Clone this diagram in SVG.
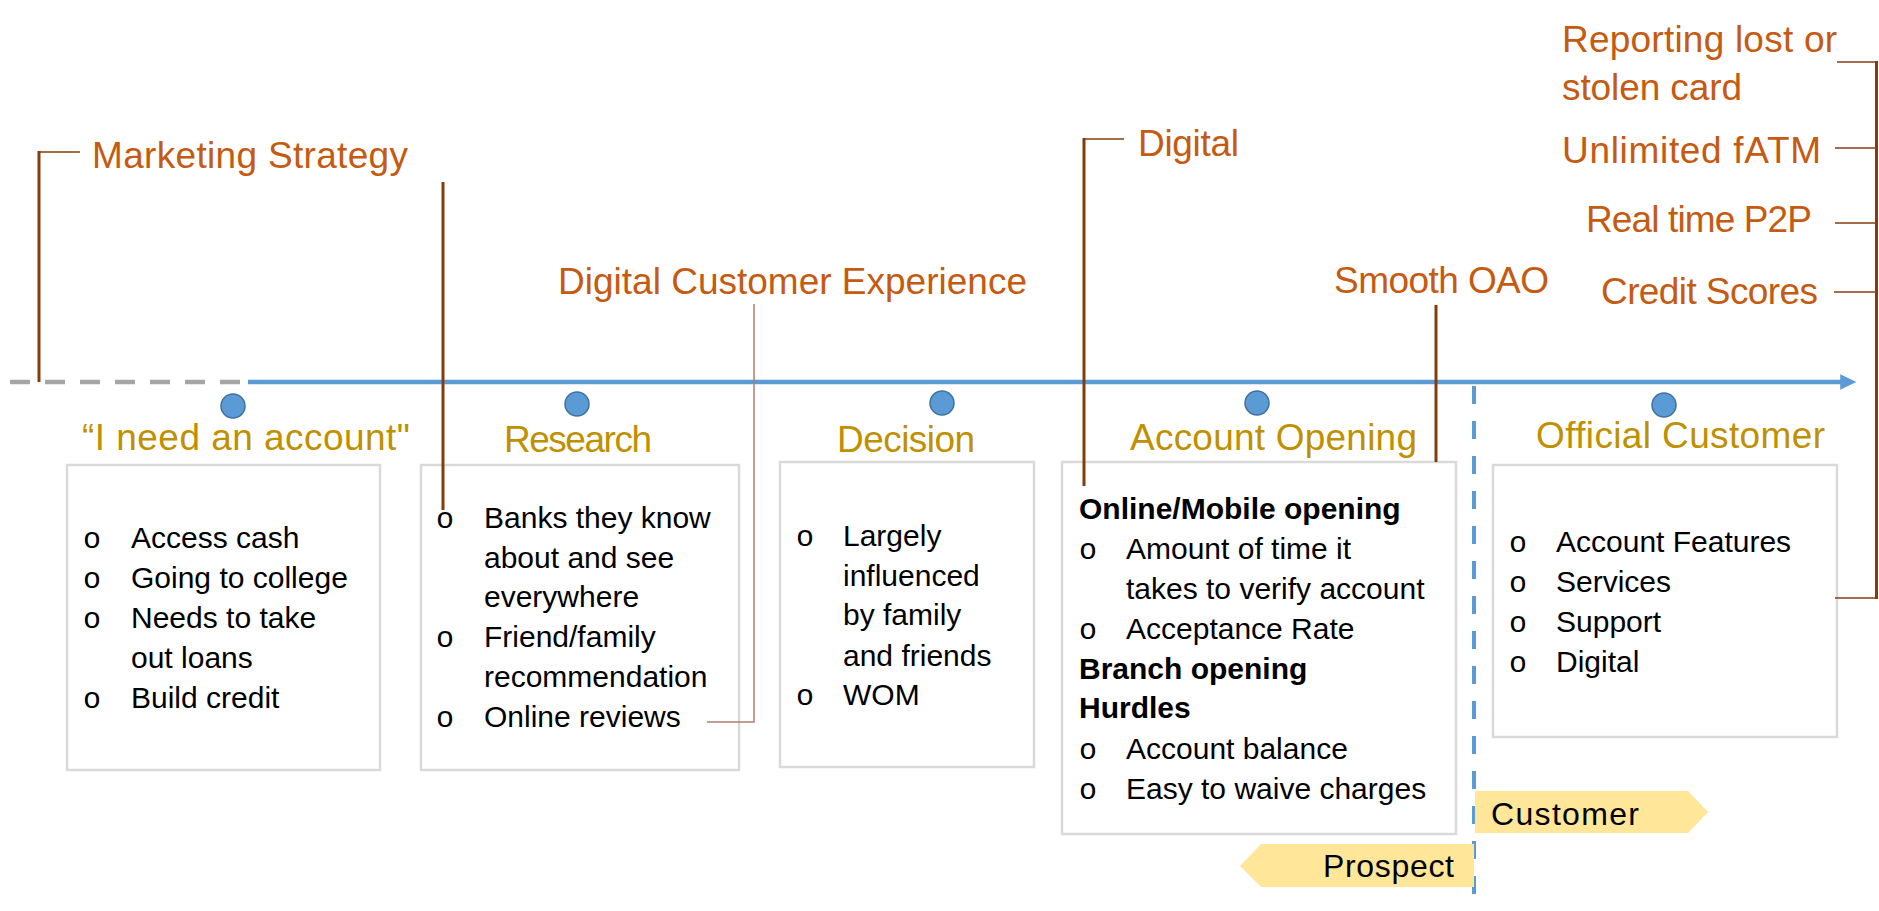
<svg xmlns="http://www.w3.org/2000/svg" width="1879" height="911" viewBox="0 0 1879 911">
  <style>
    .title { font-family: "Liberation Sans", Arial, sans-serif; font-size: 37px; fill: #BF9000; }
    .note { font-family: "Liberation Sans", Arial, sans-serif; font-size: 37px; fill: #C55A11; }
    .body { font-family: "Liberation Sans", Arial, sans-serif; font-size: 30px; fill: #000000; }
    .bold { font-weight: bold; }
    .bullet { font-family: "Liberation Mono", "Courier New", monospace; font-size: 30px; fill: #000000; text-anchor: middle; }
    .box { fill: #FFFFFF; stroke: #D9D9D9; stroke-width: 2.5; }
    .dot { fill: #5B9BD5; stroke: #41719C; stroke-width: 1.5; }
    .lead { fill: none; stroke: #843C0C; stroke-width: 3; }
    .tick { fill: none; stroke: #843C0C; stroke-width: 1.5; }
    .soft { fill: none; stroke: #B08070; stroke-width: 1.5; }
    .tag { fill: #FFE699; }
    .tagtext { font-family: "Liberation Sans", Arial, sans-serif; font-size: 32px; fill: #000000; }
  </style>
  <defs>
    <marker id="arrowHead" markerWidth="4" markerHeight="4" refX="0.4" refY="2" orient="auto" markerUnits="strokeWidth">
      <path d="M0,0.3 L3.6,2 L0,3.7 Z" fill="#5B9BD5"/>
    </marker>
  </defs>

  <rect width="1879" height="911" fill="#FFFFFF"/>

  <!-- timeline -->
  <g id="timeline">
    <line x1="10" y1="382" x2="240" y2="382" stroke="#A5A5A5" stroke-width="4.5" stroke-dasharray="20 15"/>
    <line x1="248" y1="382" x2="1842" y2="382" stroke="#5B9BD5" stroke-width="4.5" marker-end="url(#arrowHead)"/>
    <line x1="1474" y1="386" x2="1474" y2="895" stroke="#5B9BD5" stroke-width="4" stroke-dasharray="18 17"/>
  </g>

  <!-- stage 1 -->
  <g id="stage-need">
    <circle class="dot" cx="233" cy="406" r="12"/>
    <text class="title" x="82" y="450" textLength="328">“I need an account"</text>
    <rect class="box" x="67" y="465" width="313" height="305"/>
    <text class="bullet" x="92" y="548">o</text><text class="body" x="131" y="548">Access cash</text>
    <text class="bullet" x="92" y="588">o</text><text class="body" x="131" y="588">Going to college</text>
    <text class="bullet" x="92" y="628">o</text><text class="body" x="131" y="628">Needs to take</text>
    <text class="body" x="131" y="668">out loans</text>
    <text class="bullet" x="92" y="708">o</text><text class="body" x="131" y="708">Build credit</text>
  </g>

  <!-- stage 2 -->
  <g id="stage-research">
    <circle class="dot" cx="577" cy="404" r="12"/>
    <text class="title" x="504" y="452" textLength="148">Research</text>
    <rect class="box" x="421" y="465" width="318" height="305"/>
    <text class="bullet" x="445" y="528">o</text><text class="body" x="484" y="528">Banks they know</text>
    <text class="body" x="484" y="568">about and see</text>
    <text class="body" x="484" y="607">everywhere</text>
    <text class="bullet" x="445" y="647">o</text><text class="body" x="484" y="647">Friend/family</text>
    <text class="body" x="484" y="687">recommendation</text>
    <text class="bullet" x="445" y="727">o</text><text class="body" x="484" y="727">Online reviews</text>
  </g>

  <!-- stage 3 -->
  <g id="stage-decision">
    <circle class="dot" cx="942" cy="403" r="12"/>
    <text class="title" x="837" y="452" textLength="138">Decision</text>
    <rect class="box" x="780" y="462" width="254" height="305"/>
    <text class="bullet" x="805" y="546">o</text><text class="body" x="843" y="546">Largely</text>
    <text class="body" x="843" y="586">influenced</text>
    <text class="body" x="843" y="625">by family</text>
    <text class="body" x="843" y="666">and friends</text>
    <text class="bullet" x="805" y="705">o</text><text class="body" x="843" y="705">WOM</text>
  </g>

  <!-- stage 4 -->
  <g id="stage-opening">
    <circle class="dot" cx="1257" cy="403" r="12"/>
    <text class="title" x="1130" y="450" textLength="287">Account Opening</text>
    <rect class="box" x="1062" y="462" width="394" height="372"/>
    <text class="body bold" x="1079" y="519">Online/Mobile opening</text>
    <text class="bullet" x="1088" y="559">o</text><text class="body" x="1126" y="559">Amount of time it</text>
    <text class="body" x="1126" y="599">takes to verify account</text>
    <text class="bullet" x="1088" y="639">o</text><text class="body" x="1126" y="639">Acceptance Rate</text>
    <text class="body bold" x="1079" y="679">Branch opening</text>
    <text class="body bold" x="1079" y="718">Hurdles</text>
    <text class="bullet" x="1088" y="759">o</text><text class="body" x="1126" y="759">Account balance</text>
    <text class="bullet" x="1088" y="799">o</text><text class="body" x="1126" y="799">Easy to waive charges</text>
  </g>

  <!-- stage 5 -->
  <g id="stage-customer">
    <circle class="dot" cx="1664" cy="405" r="12"/>
    <text class="title" x="1536" y="448" textLength="289">Official Customer</text>
    <rect class="box" x="1493" y="465" width="344" height="272"/>
    <text class="bullet" x="1518" y="552">o</text><text class="body" x="1556" y="552">Account Features</text>
    <text class="bullet" x="1518" y="592">o</text><text class="body" x="1556" y="592">Services</text>
    <text class="bullet" x="1518" y="632">o</text><text class="body" x="1556" y="632">Support</text>
    <text class="bullet" x="1518" y="672">o</text><text class="body" x="1556" y="672">Digital</text>
  </g>

  <!-- prospect / customer tags -->
  <g id="tag-customer">
    <polygon class="tag" points="1475,791 1688,791 1708,812 1688,833 1475,833"/>
    <text class="tagtext" x="1491" y="825" textLength="148">Customer</text>
  </g>
  <g id="tag-prospect">
    <polygon class="tag" points="1240,866 1261,844 1474,844 1474,887 1261,887"/>
    <text class="tagtext" x="1323" y="877" textLength="131">Prospect</text>
  </g>

  <!-- callout labels -->
  <g id="note-marketing"><text class="note" x="92" y="168" textLength="316">Marketing Strategy</text></g>
  <g id="note-dce"><text class="note" x="558" y="294" textLength="469">Digital Customer Experience</text></g>
  <g id="note-digital"><text class="note" x="1138" y="156" textLength="101">Digital</text></g>
  <g id="note-oao"><text class="note" x="1334" y="293" textLength="215">Smooth OAO</text></g>
  <g id="note-reporting">
    <text class="note" x="1562" y="52" textLength="275">Reporting lost or</text>
    <text class="note" x="1562" y="100" textLength="180">stolen card</text>
  </g>
  <g id="note-atm"><text class="note" x="1562" y="163" textLength="259">Unlimited fATM</text></g>
  <g id="note-p2p"><text class="note" x="1586" y="232" textLength="226">Real time P2P</text></g>
  <g id="note-credit"><text class="note" x="1601" y="304" textLength="217">Credit Scores</text></g>

  <!-- connectors -->
  <g id="connectors">
    <line class="lead" x1="39" y1="151" x2="39" y2="382"/>
    <line class="tick" x1="39" y1="152" x2="80" y2="152"/>
    <line class="lead" x1="443" y1="182" x2="443" y2="510"/>
    <polyline class="soft" points="754,304 754,722 707,722"/>
    <line class="lead" x1="1084" y1="138" x2="1084" y2="486"/>
    <line class="tick" x1="1084" y1="139" x2="1124" y2="139"/>
    <line class="lead" x1="1436" y1="305" x2="1436" y2="462"/>
    <line class="lead" x1="1876.5" y1="61" x2="1876.5" y2="599"/>
    <line class="tick" x1="1837" y1="62" x2="1876" y2="62"/>
    <line class="tick" x1="1835" y1="148" x2="1876" y2="148"/>
    <line class="tick" x1="1835" y1="223" x2="1876" y2="223"/>
    <line class="tick" x1="1834" y1="292" x2="1876" y2="292"/>
    <line class="tick" x1="1835" y1="598" x2="1876" y2="598"/>
  </g>
</svg>
